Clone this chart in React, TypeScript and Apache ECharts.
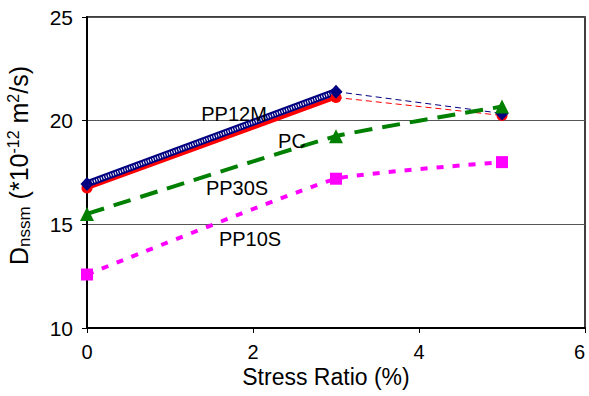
import React, { useEffect, useRef } from "react";
import * as echarts from "echarts";

const stressRatio = [0, 3, 5];
const pp12m = [16.95, 21.4, 20.35];
const pc = [16.75, 21.12, 20.25];
const pp30s = [15.5, 19.25, 20.68];
const pp10s = [12.58, 17.2, 18.0];
const xTicks = [0, 2, 4, 6];
const yTicks = [10, 15, 20, 25];
const labelNames = ["PP12M", "PC", "PP30S", "PP10S"];

const pts = (ys: number[], idx: number[]) => idx.map((i) => [stressRatio[i], ys[i]]);

export default function App() {
  const ref = useRef<HTMLDivElement>(null);
  useEffect(() => {
    if (!ref.current) return;
    const chart = echarts.init(ref.current, undefined, { renderer: "svg" });
    const font = "Liberation Sans, Arial, sans-serif";
    const labelPos = [
      [234, 114],
      [292, 141],
      [237, 188],
      [250, 239],
    ];
    chart.setOption({
      animation: false,
      backgroundColor: "#fff",
      grid: {
        left: 87,
        right: 4,
        top: 17,
        bottom: 68,
        show: true,
        borderColor: "#000",
        borderWidth: 1.5,
        containLabel: false,
        outerBoundsMode: "none",
      },
      xAxis: {
        type: "value",
        min: xTicks[0],
        max: xTicks[xTicks.length - 1],
        interval: 2,
        name: "Stress Ratio (%)",
        nameLocation: "middle",
        nameGap: 40,
        nameMoveOverlap: false,
        nameTextStyle: {
          fontFamily: font,
          fontSize: 23,
          lineHeight: 18,
          color: "#000",
          padding: [0, 20, 0, 0],
        },
        axisLine: { lineStyle: { color: "#000", width: 2 } },
        axisTick: { show: true, length: 5, lineStyle: { color: "#000" } },
        axisLabel: {
          fontFamily: font,
          fontSize: 20,
          lineHeight: 14,
          color: "#000",
          margin: 17,
          alignMaxLabel: "right",
        },
        splitLine: { show: false },
      },
      yAxis: {
        type: "value",
        min: yTicks[0],
        max: yTicks[yTicks.length - 1],
        interval: 5,
        name: "{d|D}{sub|nssm}{n| (*10}{sup|-12}{n| m}{sup|2}{n|/s)}",
        nameLocation: "middle",
        nameRotate: 90,
        nameGap: 54,
        nameMoveOverlap: false,
        nameTextStyle: {
          fontFamily: font,
          color: "#000",
          padding: [0, 0, 0, 14],
          rich: {
            d: { fontFamily: font, fontSize: 25, lineHeight: 28, color: "#000" },
            n: { fontFamily: font, fontSize: 25, lineHeight: 28, color: "#000" },
            sub: {
              fontFamily: font,
              fontSize: 17,
              lineHeight: 17,
              verticalAlign: "bottom",
              color: "#000",
            },
            sup: {
              fontFamily: font,
              fontSize: 16,
              lineHeight: 16,
              verticalAlign: "top",
              color: "#000",
            },
          },
        },
        axisLine: { show: true, lineStyle: { color: "#000", width: 2 } },
        axisTick: { show: true, length: 5, lineStyle: { color: "#000" } },
        axisLabel: { fontFamily: font, fontSize: 21, color: "#000", margin: 14 },
        splitLine: { show: true, lineStyle: { color: "#555", width: 1 } },
      },
      graphic: labelNames.map((t, i) => ({
        type: "text",
        x: labelPos[i][0],
        y: labelPos[i][1],
        z: 100,
        style: {
          text: t,
          fontFamily: font,
          fontSize: 20,
          fill: "#000",
          align: "center",
          verticalAlign: "middle",
        },
      })),
      series: [
        {
          type: "line",
          data: pts(pc, [1, 2]),
          symbol: "none",
          lineStyle: { color: "#ff0000", width: 1, type: [6, 4] },
          z: 2,
        },
        {
          type: "line",
          data: pts(pp12m, [1, 2]),
          symbol: "none",
          lineStyle: { color: "#000080", width: 1, type: [6, 4] },
          z: 2,
        },
        {
          type: "line",
          data: pts(pc, [0, 1]),
          symbol: "none",
          lineStyle: { color: "#ff0000", width: 4 },
          z: 3,
        },
        {
          type: "line",
          data: pts(pp12m, [0, 1]),
          symbol: "none",
          lineStyle: { color: "#000080", width: 7 },
          z: 4,
        },
        {
          type: "line",
          data: pts(pp12m, [0, 1]),
          symbol: "none",
          lineStyle: { color: "#ffffff", width: 3, type: [1, 1.5] },
          z: 5,
        },
        {
          type: "line",
          data: pts(pc, [0, 1, 2]),
          symbol: "circle",
          symbolSize: 11,
          itemStyle: { color: "#ff0000" },
          lineStyle: { width: 0, opacity: 0 },
          z: 6,
        },
        {
          type: "line",
          data: pts(pp12m, [0, 1, 2]),
          symbol: "diamond",
          symbolSize: [13, 14],
          itemStyle: { color: "#000080" },
          lineStyle: { width: 0, opacity: 0 },
          z: 7,
        },
        {
          type: "line",
          data: pts(pp30s, [0, 1, 2]),
          smooth: 0.12,
          symbol: "triangle",
          symbolSize: 14,
          itemStyle: { color: "#008000" },
          lineStyle: { color: "#008000", width: 4, type: [18, 10] },
          z: 8,
        },
        {
          type: "line",
          data: pts(pp10s, [0, 1, 2]),
          smooth: 0.12,
          symbol: "rect",
          symbolSize: 12,
          itemStyle: { color: "#ff00ff" },
          lineStyle: { color: "#ff00ff", width: 4, type: [7, 9] },
          z: 8,
        },
      ],
    });
    return () => chart.dispose();
  }, []);
  return (
    <div
      ref={ref}
      style={{ width: 589, height: 396, position: "absolute", left: 0, top: 0 }}
    />
  );
}
